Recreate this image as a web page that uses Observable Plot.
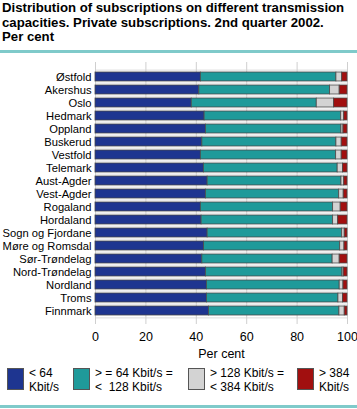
<!DOCTYPE html>
<html><head><meta charset="utf-8">
<script src="https://cdn.jsdelivr.net/npm/d3@7"></script>
<script src="https://cdn.jsdelivr.net/npm/@observablehq/plot@0.6"></script>
<style>
body{margin:0;width:357px;height:409px;overflow:hidden;font-family:"Liberation Sans",Arial,sans-serif;background:#fff;position:relative}
#title{position:absolute;left:2px;top:1px;font-weight:bold;font-size:13.2px;line-height:14.6px;color:#000;white-space:nowrap}
.rule{position:absolute;left:0;width:357px;height:3px;background:#7fcaca}
#chart{position:absolute;left:0;top:55px}
#chart svg{overflow:visible}
#legend{position:absolute;top:367px;left:0;width:357px;font-size:12px;line-height:13.5px;color:#000}
.item{position:absolute;display:flex;align-items:flex-start}
.sw{width:15px;height:20px;border:1px solid #555;margin-right:5px;margin-top:1px}
</style></head>
<body>
<div id="title">Distribution of subscriptions on different transmission<br>capacities. Private subscriptions. 2nd quarter 2002.<br>Per cent</div>
<div class="rule" style="top:50px"></div>
<div id="chart"></div>
<div id="legend"></div>
<div class="rule" style="top:405px"></div>
<script>
const regions = ["Østfold","Akershus","Oslo","Hedmark","Oppland","Buskerud","Vestfold","Telemark","Aust-Agder","Vest-Agder","Rogaland","Hordaland","Sogn og Fjordane","Møre og Romsdal","Sør-Trøndelag","Nord-Trøndelag","Nordland","Troms","Finnmark"];
const below64 = [41.8,41.2,38.2,43.3,43.8,42.4,41.8,43.0,44.5,43.8,41.8,42.1,44.5,43.1,42.4,43.8,44.2,44.2,45.0];
const from64to128 = [53.8,51.9,49.6,54.2,53.8,53.2,53.7,53.1,53.1,52.9,52.5,52.2,53.4,54.0,51.7,54.2,52.7,52.2,51.8];
const from128to384 = [2.3,3.8,6.9,1.2,0.8,2.1,2.2,2.1,1.1,1.8,3.0,2.0,1.0,1.7,2.8,0.5,1.5,1.8,2.1];
const above384 = [2.1,3.1,5.3,1.3,1.6,2.3,2.3,1.8,1.3,1.5,2.7,3.7,1.1,1.2,3.1,1.5,1.6,1.8,1.1];
const seriesNames = ["< 64 Kbit/s","> = 64 Kbit/s = <  128 Kbit/s","> 128 Kbit/s = < 384 Kbit/s","> 384 Kbit/s"];
const legendLines = [["< 64","Kbit/s"],["> = 64 Kbit/s =","<\u00a0 128 Kbit/s"],["> 128 Kbit/s =","< 384 Kbit/s"],["> 384","Kbit/s"]];
const colors = ["#1e3590","#1f9a9a","#d3d3d3","#a10f0f"];
const xTicks = [0,20,40,60,80,100];

const seriesValues = [below64, from64to128, from128to384, above384];
const data = [];
regions.forEach((r,i)=>seriesNames.forEach((s,j)=>data.push({region:r, series:s, value:seriesValues[j][i]})));

const W=357, H=305, mt=7, mb=36;
const step = (H-mt-mb)/regions.length;

const chart = Plot.plot({
  width: W, height: H,
  marginLeft: 95, marginRight: 10, marginTop: mt, marginBottom: mb,
  style: {fontFamily: "'Liberation Sans', Arial, sans-serif", fontSize: "12px", color:"#000", background:"#fff", overflow:"visible"},
  x: {domain:[0,100], label: null},
  y: {domain: regions, label: null, paddingInner: 0.34, paddingOuter: 0.17},
  color: {domain: seriesNames, range: colors},
  marks: [
    Plot.ruleY(regions, {y: d=>d, dy: -step/2, stroke:"#dcdcdc", strokeWidth:1}),
    Plot.ruleY([regions[regions.length-1]], {y: d=>d, dy: step/2, stroke:"#dcdcdc", strokeWidth:1}),
    Plot.gridX(xTicks, {stroke:"#cfcfcf", strokeOpacity:1}),
    Plot.barX(data, Plot.stackX({x:"value", y:"region", fill:"series", order: seriesNames, stroke:"#4a4a4a", strokeWidth:0.8})),
    Plot.axisX({ticks: xTicks, tickSize:0, tickPadding:8, label:"Per cent", labelAnchor:"center", labelOffset:33, labelArrow:false, fontSize:"12.5px"}),
    Plot.axisY({tickSize:0, tickPadding:4, label:null, fontSize:"11.2px"})
  ]
});
document.getElementById("chart").appendChild(chart);

const lx = [7, 73, 188, 297];
const leg = document.getElementById("legend");
seriesNames.forEach((s,j)=>{
  const d = document.createElement("div");
  d.className="item"; d.style.left = lx[j]+"px";
  const sw = document.createElement("div"); sw.className="sw"; sw.style.background=colors[j];
  const t = document.createElement("div"); t.innerHTML = legendLines[j].join("<br>");
  d.appendChild(sw); d.appendChild(t); leg.appendChild(d);
});
</script>
</body></html>
